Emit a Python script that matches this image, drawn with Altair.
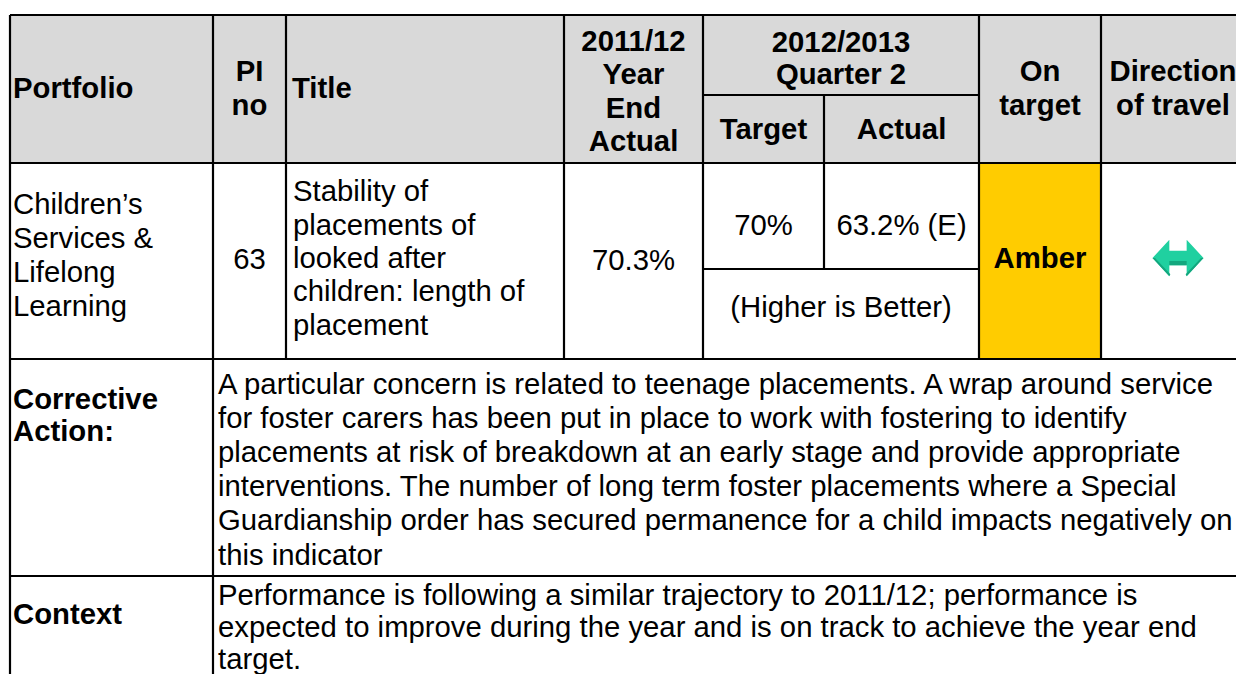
import altair as alt
import pandas as pd

# ---------------- table content ----------------
hdr_portfolio = ["Portfolio"]
hdr_pi = ["PI", "no"]
hdr_title = ["Title"]
hdr_prev = ["2011/12", "Year", "End", "Actual"]
hdr_period = ["2012/2013", "Quarter 2"]
hdr_target = ["Target"]
hdr_actual = ["Actual"]
hdr_status = ["On", "target"]
hdr_direction = ["Direction", "of travel"]

portfolio = ["Children\u2019s", "Services &", "Lifelong", "Learning"]
pi_no = ["63"]
pi_title = ["Stability of", "placements of", "looked after", "children: length of", "placement"]
prev_actual = ["70.3%"]
target = ["70%"]
actual = ["63.2% (E)"]
polarity = ["(Higher is Better)"]
status = ["Amber"]
direction = ["same"]  # drawn as a double-headed arrow

corrective_label = ["Corrective", "Action:"]
corrective_text = [
    "A particular concern is related to teenage placements. A wrap around service",
    "for foster carers has been put in place to work with fostering to identify",
    "placements at risk of breakdown at an early stage and provide appropriate",
    "interventions. The number of long term foster placements where a Special",
    "Guardianship order has secured permanence for a child impacts negatively on",
    "this indicator",
]
context_label = ["Context"]
context_text = [
    "Performance is following a similar trajectory to 2011/12; performance is",
    "expected to improve during the year and is on track to achieve the year end",
    "target.",
]

status_colors = {"Amber": "#ffcc00"}
header_fill = "#d9d9d9"
arrow_color = "#20d0a0"
arrow_shade = "#13a77e"

# ---------------- layout (page pixel coordinates) ----------------
W, H = 1228, 666
X0, X1 = 8, 8 + W
Y0, Y1 = 8, 8 + H
FONT = "Liberation Sans, Arial, Helvetica, sans-serif"
FS = 29.3
LH = 34.0

# column edges
cx = [10, 213, 286, 564, 703, 824, 979, 1101, 1252]
# row edges: top, sub-header split, header bottom, data split, data bottom, corrective bottom, beyond
ry = [15, 95, 163, 269, 359, 576, 700]

def mid(a, b):
    return (a + b) / 2

blocks = [
    # lines, x, cy, align, bold, line-height
    (hdr_portfolio, 13, 89, "left", True, LH),
    (hdr_pi, mid(cx[1], cx[2]), 89, "center", True, LH),
    (hdr_title, 292, 89, "left", True, LH),
    (hdr_prev, mid(cx[3], cx[4]), 92, "center", True, 33.3),
    (hdr_period, mid(cx[4], cx[6]), 59, "center", True, 32),
    (hdr_target, mid(cx[4], cx[5]), 130, "center", True, LH),
    (hdr_actual, mid(cx[5], cx[6]), 130, "center", True, LH),
    (hdr_status, mid(cx[6], cx[7]), 89, "center", True, LH),
    (hdr_direction, 1173, 89, "center", True, LH),
    (portfolio, 13, 256, "left", False, 33.7),
    (pi_no, mid(cx[1], cx[2]), 260, "center", False, LH),
    (pi_title, 293, 259, "left", False, 33.3),
    (prev_actual, mid(cx[3], cx[4]), 261, "center", False, LH),
    (target, mid(cx[4], cx[5]), 226, "center", False, LH),
    (actual, mid(cx[5], cx[6]), 226, "center", False, LH),
    (polarity, mid(cx[4], cx[6]), 308, "center", False, LH),
    (status, mid(cx[6], cx[7]), 259, "center", True, LH),
    (corrective_label, 13, 416, "left", True, 32),
    (corrective_text, 218, 470, "left", False, 34.2),
    (context_label, 13, 615, "left", True, LH),
    (context_text, 218, 628, "left", False, 32),
]

rows = []
for lines, x, cy, align, bold, lh in blocks:
    n = len(lines)
    for i, s in enumerate(lines):
        rows.append({"x": x, "y": cy + (i - (n - 1) / 2) * lh, "text": s,
                     "align": align, "bold": bold})
text_df = pd.DataFrame(rows)

fills = pd.DataFrame([
    {"x": cx[0], "x2": cx[-1], "y": ry[0], "y2": ry[2], "fill": header_fill},
    {"x": cx[6], "x2": cx[7], "y": ry[2], "y2": ry[4], "fill": status_colors[status[0]]},
])

border_rows = []
for x, ya, yb in [(cx[0], ry[0], ry[6]), (cx[1], ry[0], ry[6]), (cx[2], ry[0], ry[4]),
                  (cx[3], ry[0], ry[4]), (cx[4], ry[0], ry[4]), (cx[5], ry[1], ry[3]),
                  (cx[6], ry[0], ry[4]), (cx[7], ry[0], ry[4])]:
    border_rows.append({"x": x, "x2": x, "y": ya, "y2": yb})
for y, xa, xb in [(ry[0], cx[0], cx[-1]), (ry[1], cx[4], cx[6]), (ry[2], cx[0], cx[-1]),
                  (ry[3], cx[4], cx[6]), (ry[4], cx[0], cx[-1]), (ry[5], cx[0], cx[-1])]:
    border_rows.append({"x": xa, "x2": xb, "y": y, "y2": y})
borders = pd.DataFrame(border_rows)

arrow_df = pd.DataFrame([{"x": 1178, "y": 258, "dir": direction[0]}])

xsc = alt.Scale(domain=[X0, X1], range=[0, W])
ysc = alt.Scale(domain=[Y0, Y1], range=[0, H])

def X(f="x"):
    return alt.X(f"{f}:Q", scale=xsc, axis=None)

def Y(f="y"):
    return alt.Y(f"{f}:Q", scale=ysc, axis=None)

rects = alt.Chart(fills).mark_rect().encode(
    x=X(), x2="x2:Q", y=Y(), y2="y2:Q", color=alt.Color("fill:N", scale=None)
)

rules = alt.Chart(borders).mark_rule(color="black", strokeWidth=2.2).encode(
    x=X(), x2="x2:Q", y=Y(), y2="y2:Q"
)

def text_layer(align, bold):
    d = text_df[(text_df["align"] == align) & (text_df["bold"] == bold)]
    return alt.Chart(d).mark_text(
        align=align, baseline="middle", font=FONT, fontSize=FS,
        fontWeight="bold" if bold else "normal", color="black"
    ).encode(x=X(), y=Y(), text="text:N")

ARROW = ("M -1 0 L -0.34 -0.72 L -0.34 -0.28 L 0.34 -0.28 L 0.34 -0.72 "
         "L 1 0 L 0.34 0.72 L 0.34 0.28 L -0.34 0.28 L -0.34 0.72 Z")
SHADE = ("M -0.34 0.12 L 0.34 0.12 L 0.34 0.28 L -0.34 0.28 Z "
         "M -1 0 L -0.9 0.0 L -0.30 0.64 L -0.34 0.72 Z "
         "M 1 0 L 0.9 0.0 L 0.30 0.64 L 0.34 0.72 Z")

arrow = alt.Chart(arrow_df).mark_point(
    shape=ARROW, filled=True, size=51 * 51, color=arrow_color, opacity=1, strokeWidth=0
).encode(x=X(), y=Y())
arrow_sh = alt.Chart(arrow_df).mark_point(
    shape=SHADE, filled=True, size=51 * 51, color=arrow_shade, opacity=1, strokeWidth=0
).encode(x=X(), y=Y())

chart = alt.layer(
    rects, rules,
    text_layer("left", False), text_layer("center", False),
    text_layer("left", True), text_layer("center", True),
    arrow, arrow_sh,
).properties(
    width=W, height=H, padding=0, autosize=alt.AutoSizeParams(type="none"),
    background="white"
).configure_view(strokeWidth=0)

chart.save("out.html", embed_options={"renderer": "svg", "actions": False})
